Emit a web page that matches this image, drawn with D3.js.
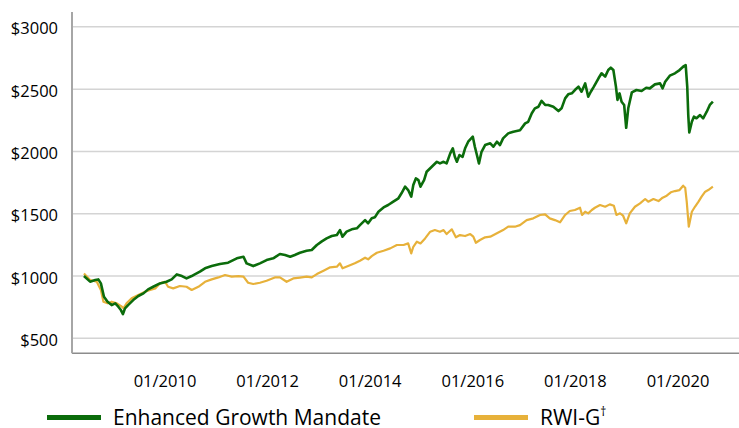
<!DOCTYPE html>
<html>
<head>
<meta charset="utf-8">
<script src="https://cdn.jsdelivr.net/npm/d3@7"></script>
<style>
  body { margin: 0; background: #fff; }
</style>
</head>
<body>
<div id="chart"></div>
<script>
// dates as decimal years, values in $ (growth of $1000)
var egmYears = [2008.42,2008.54,2008.64,2008.70,2008.75,2008.81,2008.88,2008.96,2009.03,2009.09,2009.14,2009.18,2009.22,2009.28,2009.38,2009.48,2009.58,2009.67,2009.77,2009.90,
  2010.03,2010.13,2010.23,2010.33,2010.42,2010.52,2010.58,2010.68,2010.78,2010.91,2011.07,2011.23,2011.40,2011.53,2011.59,2011.72,2011.85,2011.98,
  2012.11,2012.24,2012.34,2012.44,2012.53,2012.63,2012.76,2012.86,2012.96,2013.05,2013.15,2013.25,2013.35,2013.41,2013.46,2013.54,2013.64,2013.74,2013.80,2013.90,2013.96,
  2014.03,2014.09,2014.16,2014.26,2014.35,2014.45,2014.55,2014.61,2014.68,2014.74,2014.80,2014.84,2014.89,2014.94,2014.98,
  2015.05,2015.10,2015.20,2015.30,2015.36,2015.43,2015.49,2015.56,2015.61,2015.65,2015.69,2015.74,2015.80,2015.85,2015.91,
  2016.00,2016.04,2016.08,2016.12,2016.17,2016.24,2016.34,2016.40,2016.47,2016.53,2016.59,2016.69,2016.79,2016.92,
  2017.02,2017.08,2017.15,2017.21,2017.28,2017.34,2017.41,2017.47,2017.57,2017.67,2017.73,2017.80,2017.86,2017.93,2017.99,
  2018.06,2018.12,2018.19,2018.25,2018.30,2018.36,2018.45,2018.51,2018.58,2018.64,2018.69,2018.74,2018.79,2018.82,2018.86,2018.90,2018.95,2018.99,
  2019.03,2019.10,2019.19,2019.29,2019.38,2019.45,2019.55,2019.65,2019.70,2019.75,2019.84,2019.94,
  2020.03,2020.10,2020.15,2020.18,2020.20,2020.22,2020.27,2020.31,2020.36,2020.43,2020.49,2020.56,2020.62,2020.68];
var egmValues = [1000,955,968,973,941,834,794,767,781,754,727,695,741,767,807,840,861,893,914,941,
  954,973,1013,1000,981,1000,1013,1035,1062,1080,1096,1107,1142,1155,1102,1080,1102,1128,
  1142,1177,1169,1155,1169,1187,1203,1209,1249,1276,1302,1321,1329,1369,1316,1356,1375,1383,1409,1449,1423,
  1463,1471,1516,1551,1570,1597,1624,1664,1717,1690,1637,1730,1784,1770,1717,
  1770,1837,1877,1917,1904,1917,1904,1984,2025,1957,1917,1971,1957,2025,2078,
  2118,2038,1971,1904,1997,2051,2065,2038,2078,2051,2105,2145,2158,2170,
  2225,2238,2306,2346,2359,2405,2373,2373,2359,2324,2346,2426,2458,2466,2493,
  2520,2479,2546,2439,2479,2520,2587,2627,2600,2653,2672,2653,2520,2413,2466,2399,2373,2190,
  2346,2474,2493,2485,2511,2506,2538,2546,2506,2559,2608,2627,
  2653,2680,2693,2520,2292,2153,2238,2279,2266,2292,2266,2319,2373,2399];

var rwiYears = [2008.42,2008.54,2008.67,2008.75,2008.80,2008.88,2008.96,2009.06,2009.16,2009.19,2009.25,2009.35,2009.48,2009.61,2009.71,2009.81,2009.90,
  2010.00,2010.06,2010.16,2010.29,2010.42,2010.52,2010.65,2010.78,2010.91,2011.04,2011.17,2011.30,2011.43,2011.53,2011.62,2011.72,2011.85,2011.98,
  2012.14,2012.24,2012.37,2012.50,2012.63,2012.76,2012.86,2012.96,2013.09,2013.22,2013.35,2013.41,2013.46,2013.57,2013.70,2013.80,2013.90,2013.96,
  2014.03,2014.13,2014.26,2014.39,2014.52,2014.65,2014.74,2014.80,2014.84,2014.91,2014.98,
  2015.07,2015.17,2015.26,2015.36,2015.43,2015.49,2015.59,2015.67,2015.75,2015.85,2015.95,
  2016.01,2016.06,2016.14,2016.24,2016.34,2016.47,2016.59,2016.69,2016.82,2016.92,
  2017.05,2017.18,2017.31,2017.41,2017.50,2017.60,2017.70,2017.80,2017.89,2017.99,
  2018.09,2018.13,2018.19,2018.25,2018.32,2018.38,2018.48,2018.58,2018.67,2018.75,2018.80,2018.87,2018.93,2018.99,
  2019.06,2019.16,2019.26,2019.36,2019.42,2019.52,2019.62,2019.70,2019.78,2019.86,2019.94,
  2020.03,2020.10,2020.14,2020.17,2020.21,2020.27,2020.33,2020.40,2020.46,2020.53,2020.59,2020.68];
var rwiValues = [1021,968,954,888,794,781,794,781,754,741,781,821,848,874,888,901,941,
  954,914,901,920,914,888,914,954,973,989,1008,995,1000,995,946,936,946,962,
  989,989,954,981,988,995,989,1016,1043,1070,1075,1102,1062,1080,1102,1123,1147,1134,
  1160,1187,1203,1222,1249,1249,1262,1182,1235,1276,1262,
  1302,1356,1369,1356,1369,1337,1375,1311,1329,1321,1337,
  1316,1267,1289,1311,1316,1343,1369,1396,1396,1409,
  1449,1463,1490,1495,1463,1449,1431,1490,1522,1530,
  1548,1490,1516,1503,1530,1548,1570,1556,1575,1564,1490,1503,1484,1423,
  1503,1556,1583,1618,1597,1618,1602,1629,1645,1672,1682,
  1690,1725,1709,1597,1396,1516,1556,1597,1637,1677,1690,1717];

var yTicks = [500,1000,1500,2000,2500,3000];
var xTicks = [2010,2012,2014,2016,2018,2020];

var W = 739, H = 428;
var plotLeft = 72, plotRight = 739, plotTop = 12, plotBottom = 353.3;

var svg = d3.select("#chart")
            .append("svg")
            .attr("width", W)
            .attr("height", H)
            .style("font-family", "'Open Sans', sans-serif");

var x = d3.scaleLinear().domain([2008.187, 2021.189]).range([plotLeft, plotRight]);
var y = d3.scaleLinear().domain([380, 3119]).range([plotBottom, plotTop]);

// gridlines
svg.selectAll("line.grid")
   .data(yTicks)
   .enter()
   .append("line")
   .attr("class", "grid")
   .attr("x1", plotLeft)
   .attr("x2", plotRight)
   .attr("y1", function(d) { return y(d); })
   .attr("y2", function(d) { return y(d); })
   .attr("stroke", "#d4d4d4")
   .attr("stroke-width", 1.5);

svg.selectAll("text.ylab")
   .data(yTicks)
   .enter()
   .append("text")
   .attr("class", "ylab")
   .attr("x", 58)
   .attr("y", function(d) { return y(d) + 7.5; })
   .attr("text-anchor", "end")
   .attr("font-size", "16.5px")
   .attr("fill", "#000")
   .text(function(d) { return "$" + d; });

svg.selectAll("text.xlab")
   .data(xTicks)
   .enter()
   .append("text")
   .attr("class", "xlab")
   .attr("x", function(d) { return x(d); })
   .attr("y", 387)
   .attr("text-anchor", "middle")
   .attr("font-size", "16.5px")
   .attr("fill", "#000")
   .text(function(d) { return "01/" + d; });

// axes lines
svg.append("line")
   .attr("x1", plotLeft).attr("x2", plotRight)
   .attr("y1", plotBottom).attr("y2", plotBottom)
   .attr("stroke", "#8c8c8c")
   .attr("stroke-width", 1.5);

svg.append("line")
   .attr("x1", plotLeft).attr("x2", plotLeft)
   .attr("y1", plotTop).attr("y2", plotBottom)
   .attr("stroke", "#a6a6a6")
   .attr("stroke-width", 2);

var line = d3.line()
    .x(function(d) { return x(d[0]); })
    .y(function(d) { return y(d[1]); });

svg.append("path")
   .datum(d3.zip(rwiYears, rwiValues))
   .attr("d", line)
   .attr("fill", "none")
   .attr("stroke", "#e7b13a")
   .attr("stroke-width", 2.2)
   .attr("stroke-linejoin", "round");

svg.append("path")
   .datum(d3.zip(egmYears, egmValues))
   .attr("d", line)
   .attr("fill", "none")
   .attr("stroke", "#0b6c0b")
   .attr("stroke-width", 2.6)
   .attr("stroke-linejoin", "round");

// legend
var legend = [
  {name: "Enhanced Growth Mandate", color: "#0b6c0b", x: 47},
  {name: "RWI-G", color: "#e7b13a", x: 474}
];

svg.selectAll("line.leg")
   .data(legend)
   .enter()
   .append("line")
   .attr("class", "leg")
   .attr("x1", function(d) { return d.x; })
   .attr("x2", function(d) { return d.x + 54; })
   .attr("y1", 417.5)
   .attr("y2", 417.5)
   .attr("stroke", function(d) { return d.color; })
   .attr("stroke-width", 5);

var lt = svg.selectAll("text.leg")
   .data(legend)
   .enter()
   .append("text")
   .attr("class", "leg")
   .attr("x", function(d) { return d.x + 66; })
   .attr("y", 424.5)
   .attr("font-size", "21px")
   .attr("fill", "#000")
   .text(function(d) { return d.name; });

lt.filter(function(d, i) { return i == 1; })
  .append("tspan")
  .attr("dy", -9)
  .attr("font-size", "12px")
  .text("\u2020");
</script>
</body>
</html>
